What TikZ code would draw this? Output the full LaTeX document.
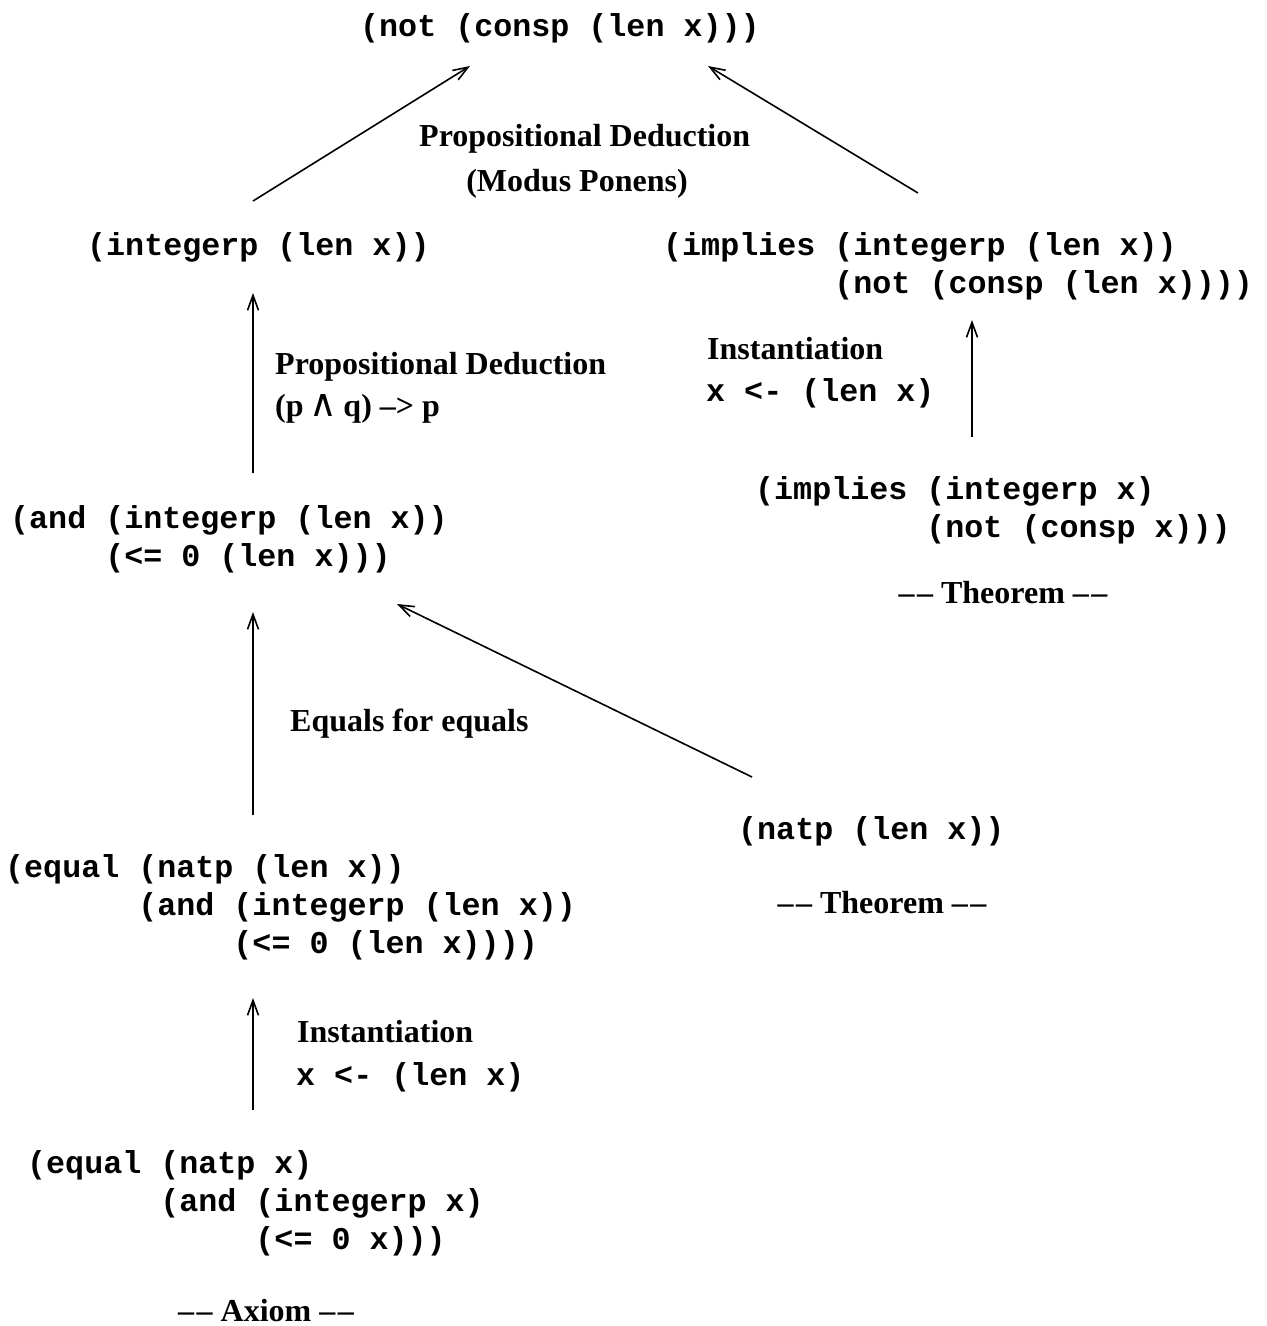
\documentclass[tikz,border=0pt]{standalone}
\usepackage{fontspec}
\setmainfont{Liberation Serif}
\setmonofont{Liberation Mono}
\newfontfamily\symfont{DejaVu Sans}
\usetikzlibrary{arrows.meta}
\newcommand\ind[1]{\hspace*{#1\fontcharwd\font`x}}
\newcommand\dd{\textendash\kern2.5pt\textendash}
\begin{document}
\begin{tikzpicture}[x=1pt,y=-1pt,
  code/.style={font=\fontsize{31.7}{38}\selectfont\ttfamily\bfseries, inner sep=0pt, anchor=base west},
  lab/.style={font=\fontsize{32}{43}\selectfont\bfseries, inner sep=0pt, anchor=base west},
  labc/.style={font=\fontsize{32}{43}\selectfont\bfseries, inner sep=0pt, anchor=base},
  arr/.style={line width=1.6pt, -{Straight Barb[length=15pt,width=11pt]}}]
\useasboundingbox (0,0) rectangle (1267,1326);

% formulas
\node[code] (top) at (360,36) {(not (consp (len x)))};
\node[code] (intp) at (87,255) {(integerp (len x))};
\node[code] (impA1) at (663,255) {(implies (integerp (len x))};
\node[code] (impA2) at (663,293) {\ind{9}(not (consp (len x))))};
\node[code] (and1) at (10,528) {(and (integerp (len x))};
\node[code] (and2) at (10,566) {\ind{5}(<= 0 (len x)))};
\node[code] (impB1) at (755,499) {(implies (integerp x)};
\node[code] (impB2) at (755,537) {\ind{9}(not (consp x)))};
\node[code] (natp) at (738,839) {(natp (len x))};
\node[code] (eqA1) at (5,877) {(equal (natp (len x))};
\node[code] (eqA2) at (5,915) {\ind{7}(and (integerp (len x))};
\node[code] (eqA3) at (5,953) {\ind{12}(<= 0 (len x))))};
\node[code] (eqB1) at (27,1173) {(equal (natp x)};
\node[code] (eqB2) at (27,1211) {\ind{7}(and (integerp x)};
\node[code] (eqB3) at (27,1249) {\ind{12}(<= 0 x)))};

% rule labels
\node[lab] (pd1) at (419,146) {Propositional Deduction};
\node[labc] (mp) at (577,191) {(Modus Ponens)};
\node[lab] (pd2) at (275,374) {Propositional Deduction};
\node[lab] (pq) at (275,416) {(p\kern6pt{\fontsize{38}{38}\selectfont\symfont\mdseries ∧}\kern6pt q) \textendash> p};
\node[lab] (inst1) at (707,359) {Instantiation};
\node[code] (sub1) at (706,401) {x <- (len x)};
\node[lab] (efe) at (290,731) {Equals for equals};
\node[lab] (inst2) at (297,1042) {Instantiation};
\node[code] (sub2) at (296,1085) {x <- (len x)};
\node[labc] (thm1) at (1003,603) {\dd{} Theorem \dd};
\node[labc] (thm2) at (882,913) {\dd{} Theorem \dd};
\node[labc] (ax) at (266,1321) {\dd{} Axiom \dd};

% connector end points
\coordinate (intpS) at (253,201);  \coordinate (topL) at (470,66);
\coordinate (impAS) at (918,193);  \coordinate (topR) at (708,66);
\coordinate (andS) at (253,473);   \coordinate (intpE) at (253,293);
\coordinate (impBS) at (972,437);  \coordinate (impAE) at (972,320);
\coordinate (eqAS) at (253,815);   \coordinate (andE) at (253,612);
\coordinate (natpS) at (752,777);  \coordinate (andE2) at (397,604);
\coordinate (eqBS) at (253,1110);  \coordinate (eqAE) at (253,998);

\draw[arr] (intpS) -- (topL);
\draw[arr] (impAS) -- (topR);
\draw[arr] (andS) -- (intpE);
\draw[arr] (impBS) -- (impAE);
\draw[arr] (eqAS) -- (andE);
\draw[arr] (natpS) -- (andE2);
\draw[arr] (eqBS) -- (eqAE);
\end{tikzpicture}
\end{document}
